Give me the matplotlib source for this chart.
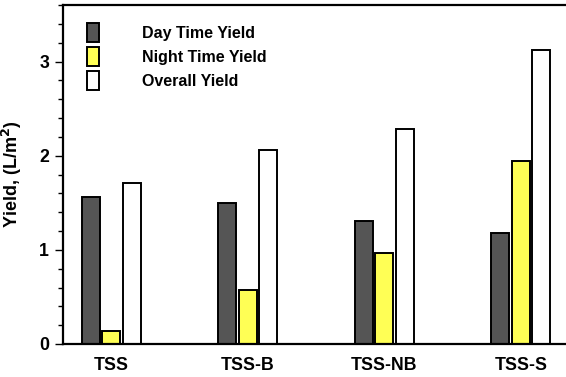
import matplotlib.pyplot as plt
import numpy as np
from matplotlib.ticker import MultipleLocator

plt.rcParams['font.family'] = ['Liberation Sans', 'DejaVu Sans']
plt.rcParams['font.weight'] = 'bold'

systems = ["TSS", "TSS-B", "TSS-NB", "TSS-S"]
day_yield = [1.56, 1.50, 1.31, 1.18]
night_yield = [0.14, 0.57, 0.97, 1.94]
overall_yield = [1.71, 2.06, 2.28, 3.12]

fig = plt.figure(figsize=(5.66, 3.77), dpi=100)
ax = fig.add_axes([63/566, 1 - 344/377, 503/566, 339/377])

x = np.arange(len(systems))
w = 0.132
step = 0.15
ax.bar(x - step, day_yield, w, color="#555555", edgecolor="black", lw=1.4, label="Day Time Yield")
ax.bar(x, night_yield, w, color="#ffff55", edgecolor="black", lw=1.4, label="Night Time Yield")
ax.bar(x + step, overall_yield, w, color="white", edgecolor="black", lw=1.4, label="Overall Yield")

ax.set_xlim(-0.352, 3.33)
ax.set_ylim(0, 3.6)
ax.set_xticks(x)
ax.set_xticklabels(systems, fontsize=12.8, fontweight="bold")
ax.tick_params(axis="x", length=0, pad=9)
ax.yaxis.set_major_locator(MultipleLocator(1))
ax.yaxis.set_minor_locator(MultipleLocator(0.2))
ax.tick_params(axis="y", which="major", length=6, width=1, labelsize=12.8, pad=4)
ax.tick_params(axis="y", which="minor", length=3.5, width=1)
for t in ax.get_yticklabels():
    t.set_fontweight("bold")
ax.spines["right"].set_visible(False)
for s in ["left", "top", "bottom"]:
    ax.spines[s].set_linewidth(1.6)

ax.set_ylabel("Yield, (L/m$^\\mathbf{2}$)", fontsize=13, fontweight="bold")
ax.yaxis.set_label_coords(-39/503, 0.5)

ax.legend(loc="upper left", bbox_to_anchor=(24/503, 1 - 17.7/339), frameon=False,
          borderpad=0, borderaxespad=0, handlelength=0.75, handleheight=1.5,
          handletextpad=2.7, labelspacing=0.28, prop={"size": 11.5, "weight": "bold"})

fig.savefig("out.png", dpi=100)
